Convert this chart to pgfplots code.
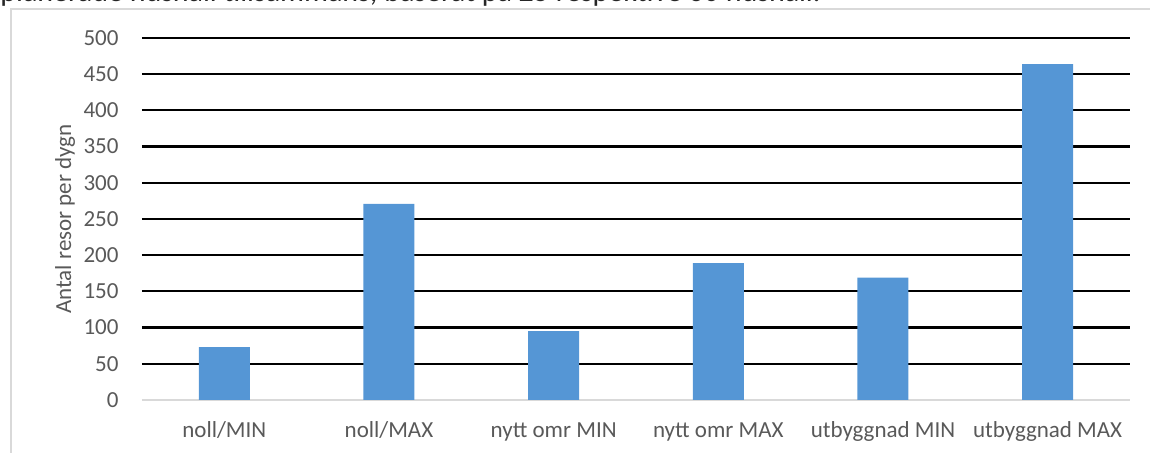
\documentclass[border=0pt]{standalone}
\usepackage{pgfplots}
\pgfplotsset{compat=1.18}
\usepackage{fontspec}
\setmainfont{Carlito}
\definecolor{barblue}{HTML}{5596D5}
\definecolor{framegray}{HTML}{D9D9D9}
\definecolor{txtgray}{HTML}{595959}
\begin{document}
\begin{tikzpicture}
\useasboundingbox (-71pt,-26.5pt) rectangle (504pt,200pt);
\draw[framegray, line width=1pt] (-65.5pt,-40pt) -- (-65.5pt,195.5pt) -- (520pt,195.5pt);
\node[anchor=base west, font=\fontsize{15}{17}\selectfont, text=black!85, inner sep=0] at (-71pt,199.4pt) {planerade hushåll tillsammans, baserat på 25 respektive 60 hushåll.};
\begin{axis}[
  at={(0,0)}, anchor=south west,
  scale only axis, width=494pt, height=181pt,
  xmin=-0.5, xmax=5.5, ymin=0, ymax=500,
  enlarge x limits=false,
  ybar, bar width=25.5pt,
  xtick={0,1,2,3,4,5},
  xticklabels={noll/MIN, noll/MAX, nytt omr MIN, nytt omr MAX, utbyggnad MIN, utbyggnad MAX},
  ytick={0,50,...,500},
  extra y ticks={50,100,...,500},
  extra y tick labels={},
  extra y tick style={ymajorgrids=true, major grid style={black, line width=1.1pt}},
  major tick length=0pt,
  tick style={draw=none},
  axis x line*=bottom, axis y line*=left,
  y axis line style={draw=none},
  x axis line style={framegray, line width=1pt, -},
  /pgf/number format/assume math mode=true,
  ticklabel style={font=\fontsize{11.5}{13}\selectfont, text=txtgray},
  xticklabel style={anchor=base, yshift=-19pt},
  yticklabel style={anchor=east, xshift=-8.2pt},
]
\addplot[fill=barblue, draw=none] coordinates {(0,73) (1,271) (2,95) (3,189) (4,169) (5,464)};
\end{axis}
\node[rotate=90, anchor=center, inner sep=0, font=\fontsize{11.5}{13}\selectfont, text=txtgray] at (-38.5pt,90.5pt) {Antal resor per dygn};
\end{tikzpicture}
\end{document}
